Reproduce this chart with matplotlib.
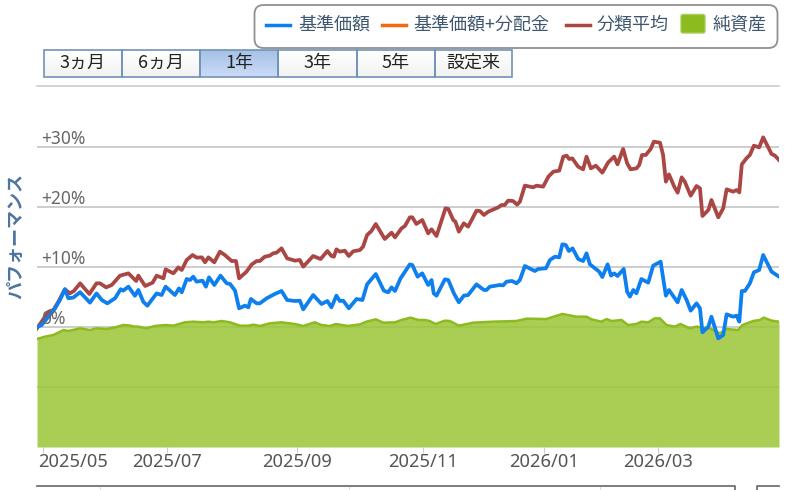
import matplotlib
matplotlib.use("Agg")
import matplotlib.pyplot as plt
import numpy as np
from matplotlib.patches import FancyBboxPatch, Rectangle
from matplotlib.lines import Line2D
from matplotlib.transforms import ScaledTranslation

W, H = 790, 490
CJK = ['Noto Sans CJK JP', 'DejaVu Sans']
plt.rcParams['font.family'] = ['Noto Sans', 'Noto Sans CJK JP', 'DejaVu Sans']

# trading day number, performance in %
fund_days = [0, 1.5, 3.7, 5.8, 7.4, 9, 10.1, 11.7, 13.9, 17.1, 19.2, 20.9, 22.7, 25.2, 27, 27.8, 29.5, 31.6, 32.7,
             34.3, 35.6, 38.6, 40.2, 41.5, 44.5, 45.8, 46.7, 48.3, 49.4, 50.4, 51.5, 53.4, 54.5, 55.5, 57.2, 59.2,
             61.2, 62.3, 63.9, 65.2, 67.1, 68.2, 69, 70.9, 71.9, 74.1, 76.7, 78.9, 80.7, 83.2, 84.8, 85.9, 89.1,
             91.8, 93.7, 95, 96.6, 97.7, 98.8, 100.6, 103.1, 105, 106.5, 109.3, 111.9, 113.3, 114.4, 115.5, 117.3,
             120.3, 121.1, 122.8, 124.3, 126.2, 127.3, 128, 128.9, 131.6, 132.7, 134.5, 136.1, 137.7, 139.1, 141.8,
             144.2, 145, 146.1, 149.3, 150.4, 151.5, 153.3, 154.7, 155.8, 157.4, 160.6, 161.7, 164.2, 165.5, 167.1,
             168.5, 169.5, 170.6, 171.6, 172.8, 174.6, 176.2, 177.3, 178.4, 181.4, 182.4, 184.1, 185.2, 186.2, 187.3,
             189.3, 190.4, 191.3, 192.4, 193.4, 195, 197.2, 198.8, 201.2, 202.9, 203.9, 206.7, 208, 209.6, 210.9,
             212.8, 213.9, 214.7, 216.6, 217.6, 219.8, 221.4, 222.5, 224.6, 225.7, 226.6, 227.4, 228.4, 230, 231.3,
             233, 234.3, 237, 239.4]
fund_vals = [0, 0.33, 1.72, 3.1, 4.5, 6.3, 4.8, 4.9, 5.8, 4.06, 5.6, 4.5, 3.94, 4.8, 6.3, 6.06, 6.72, 5.2, 6.17,
             4.2, 3.55, 5.6, 5.33, 6.72, 5.33, 6.44, 5.78, 8, 7.83, 8.39, 7.56, 7.72, 6.72, 8.28, 7, 8.56,
             7.28, 7.17, 6.06, 3.11, 3.56, 3.28, 4.67, 3.94, 3.94, 4.78, 5.5, 6, 4.5, 4.33, 4.39, 2.94, 5.33,
             3.83, 4.33, 3.28, 5.22, 4.33, 4.39, 3.11, 4.67, 4.5, 7.11, 8.83, 6.06, 5.78, 6.61, 6, 8.11,
             10.44, 10.33, 8.39, 8.94, 7, 7.83, 5.61, 5.22, 7.94, 7.83, 5.61, 4.11, 5.22, 5.33, 7.11,
             6.17, 6.17, 6.72, 7, 6.94, 7.56, 7.67, 7.28, 7.83, 10.17, 9.33, 9.67, 9.78, 11.17, 11.72,
             11.61, 13.78, 13.67, 12.67, 13.11, 11.33, 11, 12.28, 10.44, 9.22, 8.33, 10.44, 8.56, 8.94, 8.5,
             9.67, 5.89, 5.06, 6.17, 5.61, 8, 7.39, 10.22, 10.89, 5.22, 6.17, 4.11, 6.17, 4.5, 2.72,
             3.94, 3.11, -0.89, 0.06, 1.72, -1.89, -1.33, 2.11, 1.72, 1.89, 0.89, 6, 6, 7.28, 9.11,
             9.5, 12, 9.22, 8.39]

avg_days = [0, 1.5, 3.7, 5.3, 6.9, 9, 10.6, 11.9, 13.9, 16.9, 19.2, 20.3, 22.3, 24.1, 26.8, 29.5, 32, 32.7, 34.9,
            37.3, 38.6, 40.8, 41.5, 44, 45.6, 46.7, 48.3, 50.2, 51.5, 53.2, 54.2, 55.3, 57.2, 59, 60.6, 62.8,
            64.2, 65.2, 67.6, 69.3, 70.9, 71.9, 73.5, 75.1, 76.2, 77.3, 78.9, 80.7, 83.2, 84.8, 85.9, 89.1, 91.5,
            93.7, 95, 95.8, 96.6, 97.7, 99.3, 100.6, 102, 104.2, 105.2, 106.5, 107.9, 109.3, 110.6, 112.2, 114.4,
            115.5, 117.6, 118.7, 120.3, 121.1, 122.4, 124.3, 126.2, 127.3, 128.9, 131.8, 132.7, 134.3, 135, 136.1,
            137.7, 139.1, 141.8, 142.9, 144.2, 145.6, 148.8, 149.9, 150.9, 152, 153.6, 154.9, 155.8, 157.4, 160.1,
            161.2, 163.3, 165, 166.6, 168.5, 169.8, 170.9, 171.7, 172.7, 174.6, 176.2, 177.3, 178.7, 180.3, 182.4,
            184.3, 186.2, 187.3, 189.1, 190.4, 191.5, 193.4, 194.3, 195.2, 196.4, 198, 199, 201, 202, 202.9, 203.9,
            205.6, 206.7, 208, 209, 210.9, 212.8, 213.9, 214.7, 216.6, 217.6, 219.8, 221.4, 222.5, 224.6, 225.7,
            226.6, 227.4, 228.9, 230, 231.3, 233, 234.3, 237, 238.1, 239.4]
avg_vals = [-0.22, 0.89, 2.56, 2.83, 4.22, 6.28, 5.61, 6, 7.28, 5.5, 7.28, 7.28, 6.61, 7, 8.56, 8.94, 7.67, 8.56, 6.83,
            7.39, 8.56, 8.11, 9.61, 8.94, 9.94, 9.5, 11.17, 12, 11.56, 11.61, 10.78, 11.61, 10.78, 12.56, 12, 11,
            11, 8.11, 9.22, 10.44, 11, 11, 11.72, 11.89, 12.28, 12.39, 13.11, 11.44, 11.06, 11.17, 10.06, 11.83, 11.33,
            12.67, 11.83, 11.72, 12.94, 12.56, 12.72, 11.83, 12.61, 12.83, 13.39, 15.33, 16, 17.17, 16.06, 14.67, 15.72,
            14.94, 16.44, 16.83, 18.28, 18.28, 17.17, 17.83, 15.61, 16.28, 15.17, 19.78, 19.67, 17.83, 17.56, 15.89,
            17.28, 16.72, 19.39, 19.33, 18.67, 19.22, 19.94, 20.33, 20.33, 21.06, 21, 20.39, 20.89, 23.56, 23.28,
            23.56, 23.39, 25.06, 25.89, 26.06, 28.39, 28.56, 28, 28.11, 26.72, 26.28, 28.39, 26.44, 26.89, 25.72,
            27.44, 28.39, 27.11, 29.67, 27.28, 26.28, 26.44, 27, 28.67, 28.67, 29.67, 30.89, 30.72, 28.67, 24.22, 25.44,
            23.39, 22.39, 24.94, 24.22, 21.89, 23.5, 23.11, 18.5, 19.5, 21.17, 18.28, 19.78, 22.94, 22.56, 22.83,
            22.44, 27.11, 28.11, 28.67, 30.22, 29.94, 31.61, 28.83, 28.56, 27.83]

# net assets, drawn on the same pixel scale as the performance axis
asset_days = [0, 2.6, 5.3, 8.6, 10.1, 13.9, 17.1, 19.2, 22.5, 25.2, 27.8, 29.5, 31.6, 32.7, 35.1, 38.1, 41.5, 44, 47.7,
              50.4, 53.7, 55.3, 56.9, 59.6, 62.3, 65.5, 68.2, 69.8, 71.9, 75.1, 78.9, 83.2, 85.9, 89.6, 91.8, 94.5,
              96.4, 100.4, 104.2, 106.3, 109.3, 111.7, 115.5, 117.6, 120.5, 123, 125.1, 126.7, 128.6, 131.6, 133.2,
              136.1, 140.7, 147.2, 154.7, 158, 164.4, 166, 169.5, 174.1, 177.3, 178.9, 182.1, 183.8, 185.4, 188.6,
              190.7, 193.4, 195, 197.2, 199.3, 201, 203.1, 205.8, 207.6, 210.6, 212.8, 217.6, 220.3, 222.5, 226.2,
              227.6, 231.1, 233.2, 234.5, 237, 239.4]
asset_vals = [-2, -1.61, -1.33, -0.5, -0.67, -0.22, -0.5, -0.22, -0.33, -0.06, 0.33, 0.28, 0.06, 0.06, -0.22, 0.17, 0.33, 0.22, 0.78,
              0.89, 0.78, 0.89, 0.78, 1, 0.78, 0.22, 0.22, 0.39, 0.17, 0.61, 0.78, 0.5, 0.17, 0.78, 0.33, 0.17,
              0.5, 0.17, 0.44, 0.89, 1.28, 0.72, 0.78, 1.17, 1.56, 1.17, 1.17, 1, 0.5, 1.06, 1,
              0.22, 0.72, 0.89, 1, 1.39, 1.33, 1.61, 2.17, 1.72, 1.72, 1.28, 0.89, 1.33, 1, 1.17,
              0.33, 0.5, 0.89, 0.78, 1.44, 1.44, 0.33, 0.06, 0.5, -0.22, 0.06, -0.33, -1.06, -0.33, -0.5,
              0.33, 1, 1.17, 1.56, 1.06, 0.89]

tick_days = [2, 42, 83.9, 124.5, 163.5, 200.3]
tick_labels = ['2025/05', '2025/07', '2025/09', '2025/11', '2026/01', '2026/03']
grid_levels = [-10, 0, 10, 20, 30]
pct_labels = ['0%', '+10%', '+20%', '+30%']
pct_levels = [0, 10, 20, 30]
range_labels = ['3ヵ月', '6ヵ月', '1年', '3年', '5年', '設定来']
range_edges = [44, 122, 200, 278, 357, 435, 512]
legend_names = ['基準価額', '基準価額+分配金', '分類平均', '純資産']

fig = plt.figure(figsize=(W / 100, H / 100), dpi=100)
ax = fig.add_axes([37 / W, 1 - 447 / H, 742 / W, 360 / H])
ax.set_xlim(0, 239.4)
ax.set_ylim(-20, 40)

for lv in grid_levels:
    ax.axhline(lv, color='#c0c0c0', lw=1.1, zorder=1)
ax.fill_between(asset_days, asset_vals, -20, color='#9ac635', alpha=0.85, lw=0, zorder=2)
ax.plot(asset_days, asset_vals, color='#8cbb1f', lw=1.8, zorder=3)
ax.plot(avg_days, avg_vals, color='#aa4643', lw=2.7, zorder=4, solid_joinstyle='round')
ax.plot(fund_days, fund_vals, color='#0d7fee', lw=2.7, zorder=5, solid_joinstyle='round')

for s in ax.spines.values():
    s.set_visible(False)
ax.set_yticks([])
ax.set_xticks(tick_days)
ax.set_xticklabels(tick_labels, fontsize=13.2, color='#555555')
ax.tick_params(axis='x', length=4.3, width=0.8, color='#c0d0e0', pad=0)
ax.patch.set_alpha(0)
# the first date label is pushed right so it stays inside the plot
first = ax.get_xticklabels()[0]
first.set_ha('left')
first.set_transform(first.get_transform() + ScaledTranslation(-5 / 100, 0, fig.dpi_scale_trans))

for lv, lab in zip(pct_levels, pct_labels):
    ax.text(1.3, lv - 0.15, lab, fontsize=12.5, color='#666666', va='bottom', ha='left', zorder=6)

# overlay in pixel coordinates for the page furniture
ov = fig.add_axes([0, 0, 1, 1], zorder=10)
ov.patch.set_alpha(0)
ov.axis('off')

ov.add_line(Line2D([37, 779], [86, 86], color='#c8c8c8', lw=1.1))
ov.text(16, 236, 'パフォーマンス', rotation=90, ha='center', va='center', fontsize=13,
        fontweight='bold', color='#4d74a0', family=CJK)

# range selector
for i, lab in enumerate(range_labels):
    x0, x1 = range_edges[i], range_edges[i + 1]
    on = lab == '1年'
    top, bot = ('#a5c1e5', '#cbdcf8') if on else ('#ffffff', '#f2f2f2')
    grad = np.linspace(0, 1, 32)[:, None]
    cols = np.array(matplotlib.colors.to_rgb(top)) * (1 - grad) + np.array(matplotlib.colors.to_rgb(bot)) * grad
    ov.imshow(cols[:, None, :], extent=(x0, x1, 77, 50), aspect='auto', zorder=1)
    ov.add_patch(Rectangle((x0, 50), x1 - x0, 27, fc='none', ec='#6f93b8', lw=1.2, zorder=2))
    ov.text((x0 + x1) / 2, 63, lab, ha='center', va='center', fontsize=13, color='#222222', zorder=3, family=CJK)

# legend box
ov.add_patch(FancyBboxPatch((254.5, 5), 523, 43, boxstyle='round,pad=0,rounding_size=9', fc='white', ec='#909090',
                            lw=1.3, zorder=4))
for x0, col in [(266, '#0d7fee'), (382, '#f26a0f'), (566, '#aa4643')]:
    ov.add_line(Line2D([x0, x0 + 24], [25, 25], color=col, lw=2.5, zorder=5))
ov.add_patch(FancyBboxPatch((681, 14.5), 24, 18.5, boxstyle='round,pad=0,rounding_size=2', fc='#8cbb1f', ec='#a8cf5b',
                            lw=1, zorder=5))
for x0, name in zip([298, 413, 597, 713], legend_names):
    ov.text(x0, 25, name, ha='left', va='center', fontsize=13, color='#3e576f', zorder=5, family=CJK)

# tops of the panels below the chart, cut off by the picture edge
ov.add_line(Line2D([37, 735, 735], [486, 486, 490], color='#666666', lw=1.2, zorder=5))
ov.add_line(Line2D([757, 757, 779], [490, 486, 486], color='#666666', lw=1.2, zorder=5))
for x0 in [100, 349, 600]:
    ov.add_line(Line2D([x0, x0], [487, 490], color='#dddddd', lw=0.8, zorder=5))

ov.set_xlim(0, W)
ov.set_ylim(H, 0)

fig.savefig('out.png', dpi=100)
